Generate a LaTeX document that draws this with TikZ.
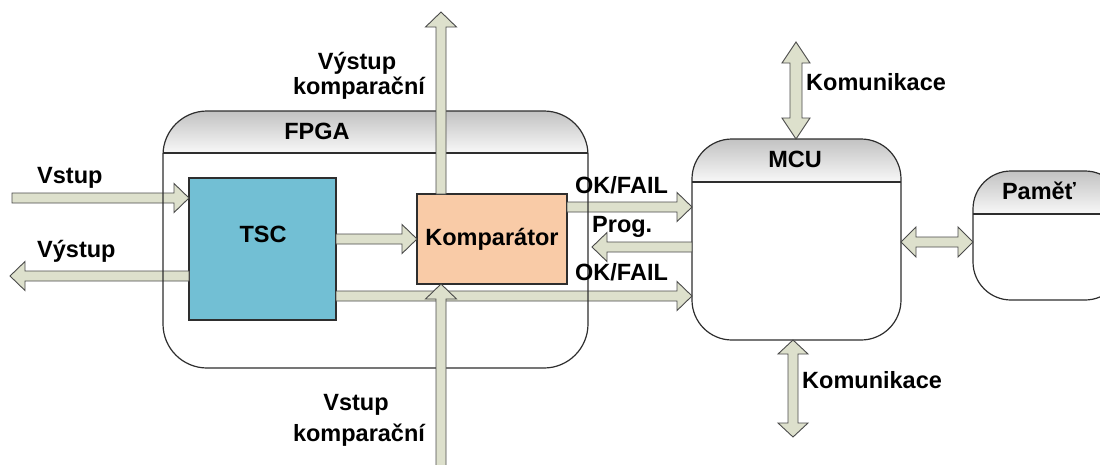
\documentclass[tikz,border=0pt]{standalone}
\usepackage{fontspec}
\setmainfont{Liberation Sans}
\usetikzlibrary{calc}

\definecolor{arrowfill}{HTML}{DDE0CC}
\definecolor{arrowline}{HTML}{4A4A4A}
\definecolor{tscfill}{HTML}{72BFD4}
\definecolor{compfill}{HTML}{F9CBA7}
\definecolor{boxline}{HTML}{2E2E2E}
\definecolor{headtop}{HTML}{C2C2C2}
\definecolor{headbot}{HTML}{F8F8F8}

\tikzset{
  blockarrow/.style={fill=arrowfill, draw=arrowline, line width=0.9pt, line join=miter},
  frame/.style={draw=boxline, line width=1.2pt},
  lbl/.style={font=\bfseries\fontsize{23.5}{26}\selectfont, inner sep=0pt, text=black},
  plainbox/.style={draw=boxline, line width=1.1pt, outer sep=0pt, inner sep=0pt},
  groupbox/.style={fill=white, outer sep=0pt, inner sep=0pt, anchor=north west},
}

% single-headed block arrow: from, to, shaft half width, head half width, head length
\newcommand\blockarrow[5]{%
  \coordinate (bahead) at ($(#2)!#5!(#1)$);
  \filldraw[blockarrow]
    ($(#1)!#3!90:(#2)$) -- ($(bahead)!#3!90:(#2)$) -- ($(bahead)!#4!90:(#2)$) --
    (#2) --
    ($(bahead)!#4!-90:(#2)$) -- ($(bahead)!#3!-90:(#2)$) -- ($(#1)!#3!-90:(#2)$) -- cycle;
}
% double-headed block arrow: end A, end B, shaft half width, head half width, head length
\newcommand\dblarrow[5]{%
  \coordinate (daA) at ($(#1)!#5!(#2)$);
  \coordinate (daB) at ($(#2)!#5!(#1)$);
  \filldraw[blockarrow]
    (#1) -- ($(daA)!#4!90:(#2)$) -- ($(daA)!#3!90:(#2)$) -- ($(daB)!#3!90:(#2)$) --
    ($(daB)!#4!90:(#2)$) -- (#2) -- ($(daB)!#4!-90:(#2)$) -- ($(daB)!#3!-90:(#2)$) --
    ($(daA)!#3!-90:(#2)$) -- ($(daA)!#4!-90:(#2)$) -- cycle;
}
% grey gradient title strip of a rounded box: node, corner radius, strip depth
\newcommand\headerfill[3]{%
  \begin{scope}
    \clip[rounded corners=#2] (#1.north west) rectangle (#1.south east);
    \shade[top color=headtop, bottom color=headbot]
      (#1.north west) rectangle ($(#1.north east)+(0,#3)$);
  \end{scope}
  \draw[frame] ($(#1.north west)+(0,#3)$) -- ($(#1.north east)+(0,#3)$);
}
\newcommand\headerborder[2]{%
  \draw[frame, rounded corners=#2] (#1.north west) rectangle (#1.south east);
}

\begin{document}
\begin{tikzpicture}[x=1pt, y=-1pt]
\useasboundingbox (0,0) rectangle (1100,464);

% ---- FPGA group (fill and title strip; border drawn after the arrows) ----
\node[groupbox, minimum width=425pt, minimum height=257pt] (fpga) at (163,111) {};
\headerfill{fpga}{44pt}{42}
\node[lbl, anchor=base] (fpgalbl) at (317,139) {FPGA};

% ---- blocks inside the FPGA ----
\node[plainbox, fill=tscfill, minimum width=147pt, minimum height=142pt, anchor=north west]
  (tsc) at (189,178) {};
\node[lbl, anchor=base] (tsclbl) at (263,242) {TSC};
\node[plainbox, fill=compfill, minimum width=150pt, minimum height=90pt, anchor=north west,
  font=\bfseries\fontsize{23.5}{26}\selectfont]
  (comp) at (417,194) {Komparátor};

% ---- MCU and memory ----
\node[groupbox, minimum width=209pt, minimum height=201pt] (mcu) at (692,139) {};
\headerfill{mcu}{40pt}{43}
\headerborder{mcu}{40pt}
\node[lbl, anchor=base] (mculbl) at (795,167) {MCU};

\node[groupbox, minimum width=150pt, minimum height=129pt] (pam) at (973,171) {};
\headerfill{pam}{38pt}{43}
\headerborder{pam}{38pt}
\node[lbl, anchor=base] (pamlbl) at (1039,199) {Paměť};

% ---- free arrow ends ----
\coordinate (inL)    at (12,198);
\coordinate (outL)   at (10,276);
\coordinate (cmpOut) at (441,12);
\coordinate (cmpIn)  at (441,475);
\coordinate (progTip) at (592,247);
\coordinate (comTop) at (796,42);
\coordinate (comBot) at (793,437);

% ---- horizontal signal arrows ----
\blockarrow{inL}{tsc.west |- inL}{5pt}{14.5pt}{15pt}
\blockarrow{tsc.west |- outL}{outL}{5pt}{14.5pt}{15pt}
\blockarrow{tsc.east |- 0,239}{comp.west |- 0,239}{5pt}{14.5pt}{15pt}
\blockarrow{tsc.east |- 0,296}{mcu.west |- 0,296}{5pt}{14.5pt}{15pt}
\blockarrow{comp.east |- 0,207}{mcu.west |- 0,207}{5pt}{14.5pt}{15pt}
\blockarrow{mcu.west |- progTip}{progTip}{5pt}{14.5pt}{15pt}

% FPGA outline over the horizontal arrows
\headerborder{fpga}{44pt}

% ---- comparison input / output ----
\blockarrow{comp.north -| cmpOut}{cmpOut}{5pt}{15.5pt}{15pt}
\blockarrow{cmpIn}{comp.south -| cmpIn}{5pt}{15.5pt}{15pt}

% ---- communication links ----
\dblarrow{comTop}{mcu.north -| comTop}{6pt}{14pt}{21pt}
\dblarrow{mcu.south -| comBot}{comBot}{5pt}{15pt}{14pt}
\dblarrow{mcu.east |- 0,242}{pam.west |- 0,242}{5pt}{15pt}{15pt}

% ---- labels ----
\node[lbl, anchor=base west] (lvstup)  at (37,183) {Vstup};
\node[lbl, anchor=base west] (lvystup) at (37,257) {Výstup};
\node[lbl, anchor=base west] (lok1)    at (575,193) {OK/FAIL};
\node[lbl, anchor=base west] (lprog)   at (592,232) {Prog.};
\node[lbl, anchor=base west] (lok2)    at (575,280) {OK/FAIL};
\node[lbl, anchor=base] (lvk1) at (357,69) {Výstup};
\node[lbl, anchor=base] (lvk2) at (359,94) {komparační};
\node[lbl, anchor=base] (lsk1) at (356,410) {Vstup};
\node[lbl, anchor=base] (lsk2) at (359,441) {komparační};
\node[lbl, anchor=base west] (lkom1) at (806,90) {Komunikace};
\node[lbl, anchor=base west] (lkom2) at (802,388) {Komunikace};
\end{tikzpicture}
\end{document}
